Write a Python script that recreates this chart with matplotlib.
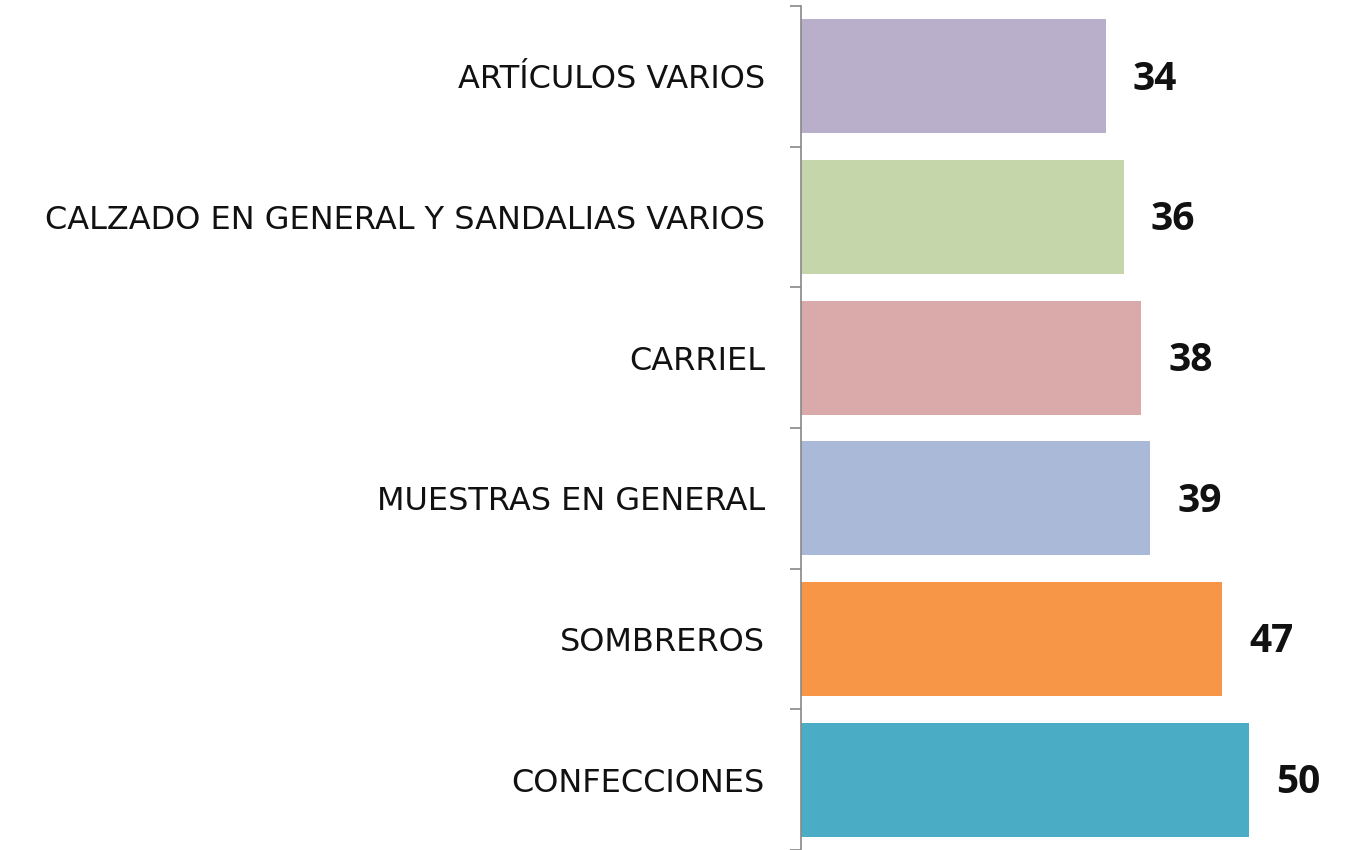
import numpy as np
import matplotlib
matplotlib.use("Agg")
from matplotlib import pyplot as plt

# data, bottom to top
categories = ['CONFECCIONES', 'SOMBREROS', 'MUESTRAS EN GENERAL', 'CARRIEL',
              'CALZADO EN GENERAL Y SANDALIAS VARIOS', 'ARTÍCULOS VARIOS']
values = [50, 47, 39, 38, 36, 34]
colors = ['#4BACC6', '#F79646', '#AAB9D7', '#DAA9A9', '#C5D6AA', '#B9AFCA']

fig = plt.figure(figsize=(13.52, 8.5), dpi=100)
ax = fig.add_axes([801 / 1352, 0, 1 - 801 / 1352, 1])

y = np.arange(len(categories))
ax.barh(y, values, height=0.81, color=colors)

ax.set_xlim(0, 61.5)
ax.set_ylim(-0.444, 5.542)

for sp in ['top', 'right', 'bottom']:
    ax.spines[sp].set_visible(False)
ax.spines['left'].set_color('#888888')
ax.spines['left'].set_linewidth(1.2)
ax.spines['left'].set_bounds(-0.5, 5.5)

ax.set_xticks([])
ax.set_yticks(y)
ax.set_yticklabels(categories, fontfamily='DejaVu Sans', fontsize=23, color='#111111')
ax.tick_params(axis='y', which='major', length=0, pad=26)
ax.set_yticks(np.arange(-0.5, 5.6, 1), minor=True)
ax.tick_params(axis='y', which='minor', length=8, width=1.2, color='#888888')

for yi, v in zip(y, values):
    ax.text(v + 3.0, yi - 0.02, str(v), ha='left', va='center',
            fontfamily='Open Sans', fontweight='bold', fontsize=28, color='#111111')

fig.savefig('out.png', dpi=100)
